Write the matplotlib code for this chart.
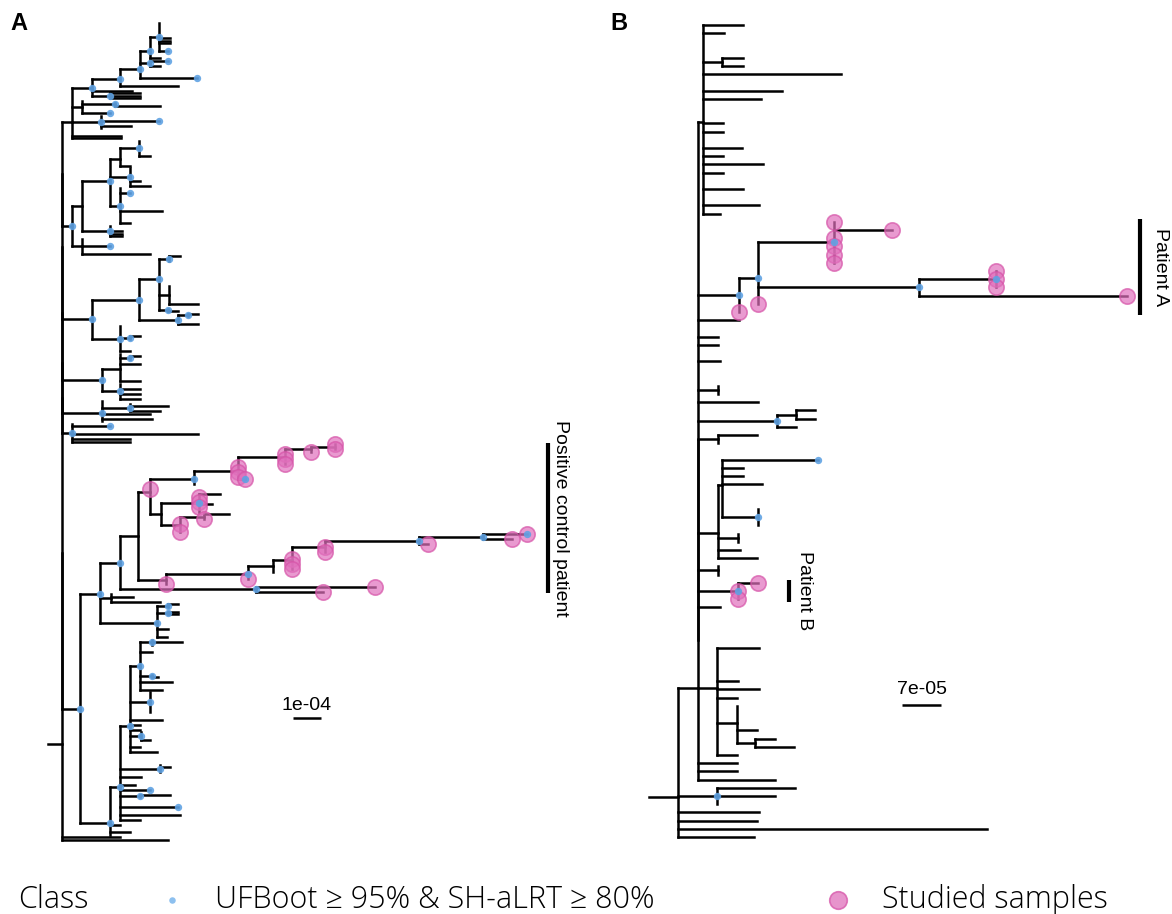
import re
import numpy as np
import matplotlib
matplotlib.use("Agg")
import matplotlib.pyplot as plt
from matplotlib.collections import LineCollection

# ------------------------------------------------------------------
# DATA: phylogenies in Newick, branch lengths in units of 1e-5 subst./site
# leaf labels: t = sample, s = studied sample, b = supported node
# (UFBoot >= 95 % & SH-aLRT >= 80 %), zK = K identical (zero-length) samples
# internal labels: b = supported node, _XX = labelled clade
# ------------------------------------------------------------------
A_CLADE_1 = ("((((((z6,t:3.9,t:3.9,t:3.9,z2,b:3.2)b:3.2,z2,t:3.6)b:3.6,(b:6.4,z1,t:3.6)b:3.6,"
             "z4,b:20.4)b:7.1,z2,t:20.7)b:10,z1,t:14.3,(t:10.7,t:10.7,t:10.7)b:6.4)b:7.1,"
             "(z1,(z1,t:16.1)b:11.8,z2,b:10):3.6,(z2,b:20.7,z1,t:10.7,z1)b:10.4,z2,t:17.5,t:17.5):3.6")
A_CLADE_2 = ("(((((z6,t:3.9)b:6.8,z3,t:3.6):3.6,(z5,t:3.6,z1,t:7.1)b:7.1,"
             "(z2,b:3.6,z6,t:15.0,z4,t:3.6)b:3.6)b:10,(z2,t:4.3,t:4.3,t:4.3)b:10):3.6,"
             "(z3,b:10,z2,t:24.3):3.6)b:3.6")
A_CLADE_3 = ("((((t:3.9,z2)b:3.6,z9,(z7,t:10.4):3.6,z1,(z1,t:3.6)b:3.2)b:7.1,"
             "((t:3.6,z1)b:3.6,z2,t:7.1)b:13.9)b:16.8,(z4,(t:3.6,z1)b:3.6,z4,t:3.6)b:10)b:10.7")
A_CLADE_4 = "((z1,(t:3.6,z1)b:3.6,z1,t:7.1,z6,t:7.1):6.4,(z2,t:7.1,z1,t:7.1,z1,t:7.1)b:6.4)b:14.3"
A_CLADE_5 = "(z1,(z1,t:13.6,z1,t:10.7)b:10,t:17.1,z1,t:17.9,z1)b:14.3"
A_CLADE_6 = "(z1,b:13.6,z2,t:45.0,z1,t:20.7,t:20.7)b:3.6"
A_POSITIVE_CONTROL = ("((((((((s:0,z1,s:0):8.6,s:0):9.3,s:0,z1,s:0,z1,s:0):16.8,"
                      "s:0,z1,s:0,z1,s:0,sb:2.5):15.7,z2)b:15.4,z1,s:0,z1,"
                      "((t:7.5,s:0,z1,s:0,t:4.3,s:0,z2)b:13.9,((t:8.9,z1,s:0):8.6,z1,s:0,z2,s:0):6.8):3.6):4.6,"
                      "(((((((sb:15.7,z1,s:10.4)b:22.9,z1,s:3.2)b:33.6,s:0,z1,s:0):11.8,"
                      "z2,s:0,z1,s:0,z1,s:0):6.8,z1):8.9,z2,s:0)b:29.3,z1,s:0):10):6.4,"
                      "(s:42.5,z1,s:23.9)b:48.6)b_PC:7.1")
A_CLADE_7_UPPER = ("(" + A_POSITIVE_CONTROL + ",(z1,t:7.9,z1,t:17.5):3.9,"
                   "((t:3.6,z1)b:3.9,z1,(t:3.6,t:3.6)b:3.9,z5,t:3.9,z2,t:3.6)b:20.4)b:7.1")
A_CLADE_7_LOWER = ("(((((z1,t:10.7,z1)b:4.3,z2,t:4.3,z8,(z1,t:2.1)b:4.3,z1,t:11.4,z2,t:7.9)b:3.6,"
                   "(z9)b:7.1,z2,t:11.4,z1,t:3.6,z1,t:3.6,(z3,t:3.2)b:3.9,z2,t:3.6,z1,t:9.6)b:3.6,"
                   "z4,(z1,t:3.6,z2)b:14.3,z1,t:7.5,z2,t:5.4,z1,b:10.7,z1,(t:10.7,z1)b:7.1,z3,b:20.7,"
                   "z2,t:21.4,z1,t:7.1)b:3.6,z1,t:3.6,z2,t:7.1,z1)b:10.7")
A_ROOT_TIPS = "t:20.7,t:37.9"
A_ROOT_EDGE = 5.0

B_TOP = ("(t:7.2,t:3.8,z2,(t:3.8,t:3.8):3.4,t:24.8,z1,t:14.2,t:10.4,z2,t:3.6,t:3.6,z1,"
         "t:7.0,t:3.6,t:10.8,t:3.6,z1,t:7.2,z1,t:10.1,t:3.1):0.9")
B_PATIENT_A = ("(((s:0,s:10.4,s:0,s:0,s:0,s:0)b:13.6,((s:0,s:0,s:0)b:13.8,s:37.2)b:28.9,s:0)b:3.4,"
               "s:0)b_PA:7.4")
B_MIDDLE = ("t:7.4,z1,t:3.6,t:3.6,z1,t:3.9,z2,(z2):3.6,t:10.8,((t:3.4,t:3.4):3.4,t:3.4)b:14.2,"
            "(t:7.0,z1):3.6,z1,((b:17.2,t:3.8,t:3.8,t:7.2,z2,(z3)b:6.5):0.7,(z2):3.6,t:3.9,t:7.0):3.6,"
            "(z2):3.6")
B_PATIENT_B = "(s:3.6,s:0,s:0)b_PB:7.2"
B_LOWER = "(t:7.5,z3,t:3.8,t:7.5,t:3.6,(z3,t:3.6,(t:3.6,t:7.0):3.2):3.6,t:3.6):3.4"
B_BASAL = "(t:14.0,t:10.4,z1)b:7.0,t:14.5,t:14.2,t:55.5,t:13.6"
B_ROOT_EDGE = 5.2

TREE_A = ("(((((((" + A_CLADE_1 + "," + A_CLADE_2 + "):0," + A_CLADE_3 + "):0," + A_CLADE_4 + "):0,"
          + A_CLADE_5 + "):0," + A_CLADE_6 + "):0,(" + A_CLADE_7_UPPER + "," + A_CLADE_7_LOWER
          + ")b:6.4):0," + A_ROOT_TIPS + "):" + str(A_ROOT_EDGE) + ";")
TREE_B = ("(((" + B_TOP + "," + B_PATIENT_A + "," + B_MIDDLE + "," + B_PATIENT_B + ",t:3.9,z4):0,"
          + B_LOWER + ",t:7.0,t:7.0,t:13.8):3.6," + B_BASAL + "):" + str(B_ROOT_EDGE) + ";")

CLADE_LABELS = {"PC": "Positive control patient", "PA": "Patient A", "PB": "Patient B"}
SCALE_A = (10, "1e-04")
SCALE_B = (7, "7e-05")
LEGEND_TITLE = "Class"
LEGEND_ITEMS = ["UFBoot \u2265 95% & SH-aLRT \u2265 80%", "Studied samples"]

BLUE = "#5FA2E3"
PINK = "#E070BC"
PINK_EDGE = "#D653A8"

# ------------------------------------------------------------------
def parse_newick(s):
    s = s.strip().rstrip(";")
    pos = 0

    def node():
        nonlocal pos
        children = []
        if s[pos] == "(":
            pos += 1
            while True:
                children.extend(node())
                if s[pos] == ",":
                    pos += 1
                    continue
                if s[pos] == ")":
                    pos += 1
                    break
        m = re.match(r"[A-Za-z0-9_]*", s[pos:])
        label = m.group(0)
        pos += len(label)
        length = 0.0
        if pos < len(s) and s[pos] == ":":
            pos += 1
            m = re.match(r"[0-9.eE+-]+", s[pos:])
            length = float(m.group(0))
            pos += len(m.group(0))
        if not children and re.fullmatch(r"z\d+", label):
            return [dict(children=[], length=0.0, label="") for _ in range(int(label[1:]))]
        return [dict(children=children, length=length, label=label)]

    tree = node()[0]
    assert pos == len(s), "unbalanced newick"
    return tree


def layout(root):
    tips, nodes = [], []

    def walk(n, x):
        n["x"] = x
        nodes.append(n)
        if not n["children"]:
            n["y"] = float(len(tips))
            tips.append(n)
        else:
            for c in n["children"]:
                walk(c, x + c["length"])
            n["y"] = float(np.mean([c["y"] for c in n["children"]]))
            n["ymin"] = min(c["ymin"] if c["children"] else c["y"] for c in n["children"])
            n["ymax"] = max(c["ymax"] if c["children"] else c["y"] for c in n["children"])

    walk(root, 0.0)
    return nodes, len(tips)


W, H = 1172, 914
fig = plt.figure(figsize=(W / 100, H / 100), dpi=100)
fig.patch.set_facecolor("white")


def make_axes(box, x0_px, ppu, y_first, y_last, n):
    L, T, Wd, Ht = box
    ax = fig.add_axes([L / W, 1 - (T + Ht) / H, Wd / W, Ht / H])
    pps = (y_last - y_first) / (n - 1)
    ax.set_xlim((L - x0_px) / ppu, (L + Wd - x0_px) / ppu)
    ax.set_ylim((T + Ht - y_first) / pps, (T - y_first) / pps)
    ax.axis("off")
    return ax


def px2data(ax, px, py):
    return ax.transData.inverted().transform((px, H - py))


def draw_tree(ax, nodes, root):
    segs = [[(-root["length"], root["y"]), (0.0, root["y"])]]
    for n in nodes:
        if n["children"]:
            ys = [c["y"] for c in n["children"]]
            segs.append([(n["x"], min(ys)), (n["x"], max(ys))])
            for c in n["children"]:
                if c["length"] > 0:
                    segs.append([(n["x"], c["y"]), (c["x"], c["y"])])
    ax.add_collection(LineCollection(segs, colors="black", linewidths=1.8,
                                     capstyle="projecting", zorder=2))
    flags = [n["label"].split("_")[0] for n in nodes]
    sx = [n["x"] for n, f in zip(nodes, flags) if "s" in f]
    sy = [n["y"] for n, f in zip(nodes, flags) if "s" in f]
    ax.scatter(sx, sy, s=122, facecolor=PINK, edgecolor=PINK_EDGE, linewidths=1.2,
               alpha=0.7, zorder=3)
    bx = [n["x"] for n, f in zip(nodes, flags) if "b" in f]
    by = [n["y"] for n, f in zip(nodes, flags) if "b" in f]
    ax.scatter(bx, by, s=28, color=BLUE, alpha=0.9, linewidths=0, zorder=4)


def clade_bar(ax, nodes, tag, bar_px, text_px):
    node = [n for n in nodes if n["label"].endswith("_" + tag)][0]
    xb = px2data(ax, bar_px, 0)[0]
    xt = px2data(ax, text_px, 0)[0]
    ax.plot([xb, xb], [node["ymin"] - 0.35, node["ymax"] + 0.35], color="black", lw=3,
            solid_capstyle="butt", zorder=2)
    ax.text(xt, (node["ymin"] + node["ymax"]) / 2, CLADE_LABELS[tag], rotation=-90,
            ha="center", va="center", fontsize=14, family="Liberation Sans")


def scale_bar(ax, scale, left_px, bar_py, text_py):
    length, label = scale
    x0, yb = px2data(ax, left_px, bar_py)
    _, yt = px2data(ax, left_px, text_py)
    ax.plot([x0, x0 + length], [yb, yb], color="black", lw=1.8, solid_capstyle="butt")
    ax.text(x0 + length / 2, yt, label, ha="center", va="center", fontsize=14,
            family="Liberation Sans")


# ---- panel A
rootA = parse_newick(TREE_A)
nodesA, nA = layout(rootA)
axA = make_axes((0, 0, 595, 865), 62, 2.8, 23, 840, nA)
draw_tree(axA, nodesA, rootA)
clade_bar(axA, nodesA, "PC", 548, 561)
scale_bar(axA, SCALE_A, 293, 718, 705)

# ---- panel B
rootB = parse_newick(TREE_B)
nodesB, nB = layout(rootB)
axB = make_axes((595, 0, 577, 865), 678, 39 / 7, 25, 837, nB)
draw_tree(axB, nodesB, rootB)
clade_bar(axB, nodesB, "PA", 1140, 1160)
clade_bar(axB, nodesB, "PB", 789, 804)
scale_bar(axB, SCALE_B, 902, 705, 689)

fig.text(10 / W, 1 - 24 / H, "A", fontsize=17, fontweight="bold", family="Liberation Sans",
         va="center", ha="left")
fig.text(610 / W, 1 - 24 / H, "B", fontsize=17, fontweight="bold", family="Liberation Sans",
         va="center", ha="left")

# ---- legend
ly = 1 - 900 / H
lfont = dict(fontsize=22, family=["Open Sans", "DejaVu Sans"], fontweight="light", va="center")
fig.text(18 / W, ly, LEGEND_TITLE, ha="left", **lfont)
fig.text(215 / W, ly, LEGEND_ITEMS[0], ha="left", **lfont)
fig.text(882 / W, ly, LEGEND_ITEMS[1], ha="left", fontstretch="expanded", **lfont)
legax = fig.add_axes([0, 0, 1, 1], facecolor="none")
legax.set_xlim(0, W)
legax.set_ylim(H, 0)
legax.axis("off")
legax.scatter([172], [900], s=22, color="#8DC0EF", linewidths=0)
legax.scatter([838], [900], s=160, facecolor=PINK, edgecolor=PINK_EDGE, linewidths=1.2, alpha=0.75)

fig.savefig("out.png", dpi=100, facecolor="white")
